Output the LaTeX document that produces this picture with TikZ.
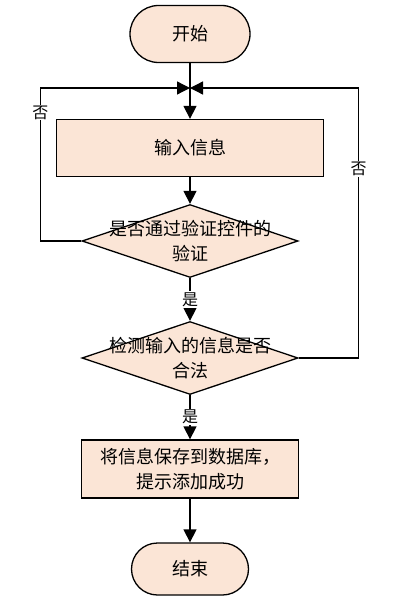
\documentclass[tikz,border=0pt]{standalone}
\usepackage{fontspec}
\setmainfont{Noto Sans CJK SC}
\usetikzlibrary{shapes.geometric,shapes.misc,arrows.meta,positioning}
\definecolor{peach}{RGB}{251,229,214}

\tikzset{
    flowtext/.style={align=center, inner sep=0pt, font=\fontsize{18}{25}\selectfont},
    flow/.style={draw, line width=1.3pt, fill=peach, flowtext},
    terminal/.style={flow, rounded rectangle, minimum width=120pt, minimum height=57pt},
    process/.style={flow, rectangle, minimum width=267pt, minimum height=57pt},
    decision/.style={flow, diamond, minimum width=216pt, minimum height=73pt},
    line/.style={line width=1.3pt, -{Triangle[length=13pt,width=13pt]}},
    tag/.style={fill=white, inner sep=1pt, font=\fontsize{16}{16}\selectfont}
}

\begin{document}
\begin{tikzpicture}[x=1pt, y=-1pt]
    \useasboundingbox (0,0) rectangle (406,604);
    \node[terminal] (start) at (190,34) {开始};
    \coordinate (join) at (190,88);
    \node[process] (input) at (190,148) {输入信息};
    \node[decision, label={[flowtext]center:是否通过验证控件的\\验证}] (check) at (190,241) {};
    \node[decision, label={[flowtext]center:检测输入的信息是否\\合法}] (legal) at (190,358) {};
    \node[process, minimum width=217pt, minimum height=58pt] (save) at (190,469) {将信息保存到数据库，\\提示添加成功};
    \node[terminal, minimum width=117pt, minimum height=52pt] (stop) at (190,569) {结束};

    \draw[line width=1.3pt] (start) -- (join);
    \draw[line] (join) -- (input);
    \draw[line] (input) -- (check);
    \draw[line] (check) -- node[tag] {是} (legal);
    \draw[line] (legal) -- node[tag] {是} (save);
    \draw[line] (save) -- (stop);
    % back to the start of input
    \draw[line] (check.west) -- ++(-41,0) |- node[tag, pos=0.42] {否} (join);
    \draw[line] (legal.east) -- ++(60,0) |- node[tag, pos=0.35] {否} (join);
\end{tikzpicture}
\end{document}
